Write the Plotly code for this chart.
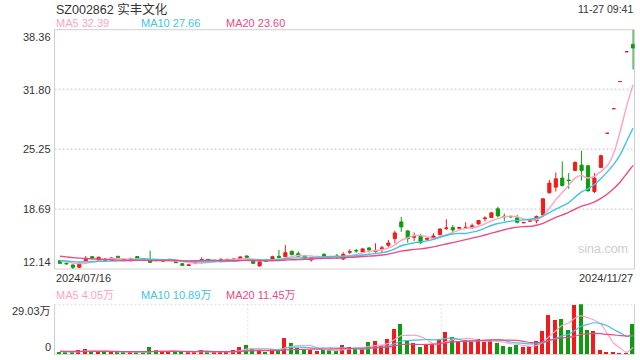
import numpy as np
import pandas as pd
import plotly.graph_objects as go

# ---------------- data ----------------
stock_code = "SZ002862"
stock_name = "实丰文化"
timestamp = "11-27 09:41"

holidays = ["2024-09-16", "2024-09-17", "2024-10-01", "2024-10-02",
            "2024-10-03", "2024-10-04", "2024-10-07"]
dates = [d.strftime("%Y/%m/%d") for d in pd.bdate_range("2024-07-16", "2024-11-27")
         if d.strftime("%Y-%m-%d") not in holidays]

opens = [13.05, 12.78, 12.58, 12.33, 13.05, 13.49, 13.13, 13.24, 13.13, 13.53,
         13.20, 13.05, 13.50, 13.24, 13.13, 13.13, 13.00, 13.06, 12.98, 12.72,
         12.53, 12.80, 12.98, 13.20, 12.94, 13.00, 13.06, 13.05, 13.28, 13.57,
         13.00, 12.48, 13.13, 13.13, 13.53, 13.49, 14.08, 13.82, 13.57, 13.13,
         13.45, 13.75, 13.50, 13.57, 13.24, 13.98, 14.17, 14.01, 14.45, 14.06,
         14.35, 14.74, 15.47, 17.30, 16.31, 15.62, 15.73, 15.40, 15.47, 15.90,
         16.58, 16.68, 16.60, 16.66, 16.75, 17.08, 17.66, 17.78, 18.73, 17.92,
         17.90, 17.74, 17.20, 17.38, 17.41, 18.07, 20.49, 21.11, 22.10, 21.88,
         22.94, 23.52, 23.45, 20.63, 23.27, 27.01, 29.71, 32.68, 35.95, 36.75]
highs = [13.13, 12.85, 12.62, 12.85, 13.57, 13.57, 13.50, 13.35, 13.45, 13.57,
         13.28, 13.38, 13.57, 13.30, 14.15, 13.20, 13.17, 13.24, 13.06, 12.76,
         12.65, 12.95, 13.42, 13.24, 13.15, 13.35, 13.25, 13.30, 13.53, 13.62,
         13.05, 12.96, 13.17, 13.60, 14.23, 14.78, 14.15, 14.08, 13.65, 13.42,
         13.60, 13.85, 13.55, 13.80, 13.97, 14.30, 14.34, 14.42, 14.52, 14.96,
         14.67, 15.32, 16.35, 17.85, 16.40, 16.14, 15.98, 15.58, 16.06, 16.60,
         17.59, 16.97, 16.75, 17.26, 17.12, 17.50, 17.92, 18.35, 18.95, 18.22,
         17.98, 18.07, 17.30, 17.50, 18.00, 19.90, 21.91, 22.72, 23.93, 22.65,
         23.93, 25.10, 23.56, 22.65, 24.66, 27.01, 29.71, 32.68, 35.95, 38.36]
lows = [12.69, 12.65, 12.14, 12.25, 12.90, 13.20, 12.94, 13.00, 13.05, 13.28,
        13.02, 12.98, 13.28, 13.10, 12.85, 13.00, 12.94, 13.00, 12.80, 12.45,
        12.45, 12.65, 12.72, 13.00, 12.90, 12.85, 13.00, 12.98, 13.20, 13.35,
        12.70, 12.42, 12.90, 13.05, 13.30, 13.42, 13.65, 13.50, 13.28, 12.94,
        13.40, 13.40, 13.42, 13.25, 13.13, 13.79, 13.93, 13.95, 13.93, 13.93,
        13.93, 14.52, 14.96, 16.20, 15.03, 15.21, 14.89, 15.25, 15.32, 15.85,
        16.42, 16.15, 16.55, 16.53, 16.53, 17.00, 17.34, 17.75, 17.81, 17.41,
        17.80, 17.15, 17.15, 17.35, 17.15, 18.00, 20.41, 20.63, 21.18, 20.92,
        22.90, 21.84, 20.63, 20.45, 23.19, 27.01, 29.71, 32.68, 35.95, 33.99]
closes = [12.76, 12.71, 12.33, 12.76, 13.31, 13.28, 13.42, 13.10, 13.35, 13.31,
          13.10, 13.28, 13.31, 13.17, 12.87, 13.06, 13.10, 13.20, 12.83, 12.55,
          12.58, 12.85, 13.17, 13.08, 13.10, 13.15, 13.20, 13.24, 13.46, 13.40,
          12.76, 12.92, 12.98, 13.49, 13.40, 13.93, 13.71, 13.53, 13.31, 13.38,
          13.50, 13.46, 13.46, 13.35, 13.75, 14.02, 14.12, 14.34, 14.23, 14.10,
          14.45, 14.99, 16.09, 16.75, 15.47, 15.68, 15.03, 15.47, 15.76, 16.52,
          16.63, 16.42, 16.68, 16.70, 16.86, 17.45, 17.72, 18.29, 17.96, 17.87,
          17.85, 17.26, 17.24, 17.42, 17.89, 19.83, 21.55, 22.02, 21.29, 21.84,
          23.82, 22.94, 20.70, 22.10, 24.55, 27.01, 29.71, 32.68, 35.95, 36.35]
# volume, unit 万 (10k shares)
volumes = [1.35, 1.0, 1.0, 2.5, 3.1, 1.35, 1.35, 1.5, 1.5, 1.5,
           0.8, 1.5, 0.8, 0.8, 4.1, 2.3, 1.5, 1.5, 1.7, 1.5,
           1.0, 1.0, 2.3, 1.35, 1.2, 1.7, 1.5, 2.3, 4.1, 5.2,
           3.3, 2.3, 1.35, 2.9, 2.5, 9.5, 6.6, 3.7, 3.1, 2.5,
           1.9, 2.1, 2.1, 2.1, 5.4, 4.3, 3.3, 3.1, 7.2, 7.4,
           5.4, 8.9, 14.7, 17.6, 8.1, 6.6, 4.3, 5.6, 5.6, 8.5,
           13.0, 10.1, 6.8, 8.1, 6.8, 8.9, 6.8, 8.1, 6.6, 4.8,
           4.3, 5.4, 3.9, 4.6, 7.4, 13.5, 22.8, 19.9, 20.5, 14.1,
           28.3, 29.03, 14.1, 13.5, 2.5, 0.6, 1.3, 0.5, 0.5, 17.3]
# sessions before 2024/07/16 (inferred from where the MA lines start)
prior_closes = [14.1, 14.0, 13.9, 14.1, 14.0, 13.9, 14.0, 14.1, 13.9, 14.0,
                13.2, 13.1, 13.2, 13.0, 13.1, 13.2, 13.1, 13.0, 13.1]
prior_volumes = [2.2, 1.8, 2.5, 2.0, 1.6, 1.9, 2.3, 1.7, 2.1, 1.8,
                 1.6, 2.0, 1.5, 1.9, 1.4, 1.7, 1.5, 1.8, 1.6]

ma_periods = [5, 10, 20]
ma_names = ["MA5", "MA10", "MA20"]
price_ma_text = ["32.39", "27.66", "23.60"]
vol_ma_text = ["4.05万", "10.89万", "11.45万"]
price_ticks = [12.14, 18.69, 25.25, 31.80, 38.36]
vol_ticks = [0, 29.03]
vol_tick_text = ["0", "29.03万"]

# ---------------- style ----------------
RED = "#f01c1c"
GREEN = "#0d9c0d"
MA_COLORS = ["#ffa2c1", "#3ec5e0", "#ec4a85"]
TXT = "#333333"
BORDER = "#cfcfcf"
GRID = "#dedede"
FONT = "Liberation Sans, Arial, Noto Sans CJK SC, sans-serif"
W, H = 640, 360
L_PX, R_PX = 54.5, 634.5
MAIN_TOP, MAIN_BOT = 29.7, 269.0
VOL_TOP, VOL_BOT = 304.3, 354.3
X_RANGE = [-0.854, 89.22]


def px(x):
    return x / W


def py(y):
    return 1 - y / H


def moving_avg(values, prior, n):
    s = pd.Series(list(prior) + list(values), dtype=float)
    return s.rolling(n).mean().to_numpy()[len(prior):]


fig = go.Figure()

fig.add_trace(go.Candlestick(
    x=dates, open=opens, high=highs, low=lows, close=closes,
    increasing=dict(line=dict(color=RED, width=1), fillcolor=RED),
    decreasing=dict(line=dict(color=GREEN, width=1), fillcolor=GREEN),
    whiskerwidth=0, xaxis="x", yaxis="y", hoverinfo="skip", showlegend=False))

for n, c in zip(ma_periods, MA_COLORS):
    fig.add_trace(go.Scatter(x=dates, y=moving_avg(closes, prior_closes, n), mode="lines",
                             line=dict(color=c, width=1.4, shape="spline", smoothing=0.6),
                             xaxis="x", yaxis="y", hoverinfo="skip", showlegend=False))

bar_colors = [RED if c >= o else GREEN for o, c in zip(opens, closes)]
fig.add_trace(go.Bar(x=dates, y=volumes, marker=dict(color=bar_colors, line=dict(width=0)),
                     width=0.62, offset=-0.54, xaxis="x2", yaxis="y2",
                     hoverinfo="skip", showlegend=False))

for n, c in zip(ma_periods, MA_COLORS):
    fig.add_trace(go.Scatter(x=dates, y=moving_avg(volumes, prior_volumes, n), mode="lines",
                             line=dict(color=c, width=1.2, shape="spline", smoothing=0.6),
                             xaxis="x2", yaxis="y2", hoverinfo="skip", showlegend=False))

DOT = dict(color=GRID, width=2, dash="2px,2px")
shapes = []
# main panel frame
shapes.append(dict(type="rect", xref="paper", yref="paper", x0=px(L_PX), x1=px(R_PX),
                   y0=py(MAIN_BOT), y1=py(MAIN_TOP), line=dict(color=BORDER, width=1), layer="below"))
# main horizontal dotted grid
for v in price_ticks[1:-1]:
    shapes.append(dict(type="line", xref="paper", yref="y", x0=px(L_PX), x1=px(R_PX), y0=v, y1=v,
                       line=DOT, layer="below"))
# volume panel frame
for x in (L_PX, R_PX):
    shapes.append(dict(type="line", xref="paper", yref="paper", x0=px(x), x1=px(x),
                       y0=py(VOL_BOT), y1=py(VOL_TOP), line=dict(color=BORDER, width=1), layer="below"))
shapes.append(dict(type="line", xref="paper", yref="paper", x0=px(L_PX), x1=px(R_PX),
                   y0=py(VOL_BOT), y1=py(VOL_BOT), line=dict(color=BORDER, width=1), layer="below"))
shapes.append(dict(type="line", xref="paper", yref="y2", x0=px(L_PX), x1=px(R_PX),
                   y0=vol_ticks[1], y1=vol_ticks[1], line=DOT, layer="below"))
for frac in (1 / 3, 2 / 3):
    xx = L_PX + (R_PX - L_PX) * frac
    shapes.append(dict(type="line", xref="paper", yref="paper", x0=px(xx), x1=px(xx),
                       y0=py(VOL_BOT), y1=py(VOL_TOP), line=dict(color=GRID, width=1, dash="2px,2px"),
                       layer="below"))

ann = []


def text(x, y, s, color=TXT, size=11, xanchor="left", yanchor="middle", yref="paper"):
    ann.append(dict(x=x, y=y, xref="paper", yref=yref, text=s, showarrow=False,
                    xanchor=xanchor, yanchor=yanchor, font=dict(family=FONT, size=size, color=color),
                    borderpad=0))


text(px(55), py(9), f"{stock_code} {stock_name}", size=12.5)
text(px(634), py(9), timestamp, size=10.5, xanchor="right")
for k, (nm, val, c) in enumerate(zip(ma_names, price_ma_text, MA_COLORS)):
    text(px(55 + 85 * k), py(23), f"{nm} {val}", color=c)
    text(px(55 + 85 * k), py(295), f"{nm} {vol_ma_text[k]}", color=c)

for k, v in enumerate(price_ticks):
    ya = "bottom" if k == 0 else ("top" if k == len(price_ticks) - 1 else "middle")
    text(px(52), v, f"{v:.2f}", xanchor="right", yanchor=ya, yref="y")
text(px(52), vol_ticks[1], vol_tick_text[1], xanchor="right", yanchor="top", yref="y2")
text(px(52), vol_ticks[0], vol_tick_text[0], xanchor="right", yanchor="bottom", yref="y2")

text(px(55), py(278), dates[0])
text(px(634), py(278), dates[-1], xanchor="right")
text(px(603), py(249), "sina.com", color="#cdcdcd", size=12.5, xanchor="center")

fig.update_layout(
    width=W, height=H, margin=dict(l=0, r=0, t=0, b=0),
    paper_bgcolor="white", plot_bgcolor="white",
    showlegend=False, shapes=shapes, annotations=ann, boxgap=0.3,
    xaxis=dict(domain=[px(L_PX), px(R_PX)], range=X_RANGE, type="category", visible=False,
               rangeslider=dict(visible=False), anchor="y"),
    xaxis2=dict(domain=[px(L_PX), px(R_PX)], range=X_RANGE, type="category", visible=False,
                matches="x", anchor="y2"),
    yaxis=dict(domain=[py(MAIN_BOT), py(MAIN_TOP)], range=[price_ticks[0], price_ticks[-1]],
               visible=False, anchor="x"),
    yaxis2=dict(domain=[py(VOL_BOT), py(VOL_TOP)], range=[vol_ticks[0], vol_ticks[1]],
                visible=False, anchor="x2"),
    bargap=0,
)

fig.write_html("out.html", config={"displayModeBar": False},
               post_script="document.body.style.margin='0';document.body.style.overflow='hidden';")
